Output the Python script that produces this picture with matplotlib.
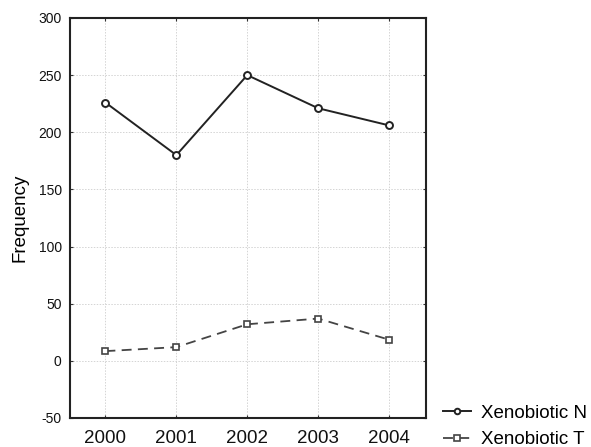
import matplotlib.pyplot as plt

plt.rcParams['font.family'] = ['Liberation Sans', 'DejaVu Sans']

# Data
years = ['2000', '2001', '2002', '2003', '2004']
xeno_n = [226, 180, 250, 221, 206]
xeno_t = [8.5, 12, 32, 37, 18.5]
y_ticks = [-50, 0, 50, 100, 150, 200, 250, 300]

fig = plt.figure(figsize=(5.91, 4.47), dpi=100)
ax = fig.add_axes([0.1184, 0.0649, 0.6024, 0.8949])

x = range(len(years))
ax.plot(x, xeno_n, color='#222222', lw=1.4, marker='o', markersize=5,
        markerfacecolor='white', markeredgecolor='#222222', markeredgewidth=1.4,
        label='Xenobiotic N', zorder=3)
line_t, = ax.plot(x, xeno_t, color='#444444', lw=1.3, marker='s', markersize=5,
                  markerfacecolor='white', markeredgecolor='#444444', markeredgewidth=1.2,
                  label='Xenobiotic T', zorder=3)
line_t.set_dashes((5.5, 3.5))

ax.set_xlim(-0.5, 4.52)
ax.set_ylim(-50, 300)
ax.set_xticks(list(x))
ax.set_xticklabels(years, fontsize=13.5)
ax.set_yticks(y_ticks)
ax.set_yticklabels([str(v) for v in y_ticks], fontsize=10)
ax.set_ylabel('Frequency', fontsize=13.5, labelpad=7)

ax.grid(True, color='#d4d4d4', linestyle=(0, (1.5, 1.5)), linewidth=0.7)
ax.tick_params(axis='both', direction='in', length=2.5, width=0.8, color='#333333',
               top=True, right=True, labelcolor='#111111')
ax.tick_params(axis='x', pad=9)
ax.tick_params(axis='y', pad=6)
for s in ax.spines.values():
    s.set_linewidth(1.5)
    s.set_color('#222222')

fig.legend(loc='upper left', bbox_to_anchor=(0.75, 0.095), frameon=False,
           fontsize=13.5, handlelength=1.5, handletextpad=0.5, labelspacing=0.5,
           markerscale=0.8, borderpad=0, borderaxespad=0)

fig.savefig('out.png', dpi=100)
